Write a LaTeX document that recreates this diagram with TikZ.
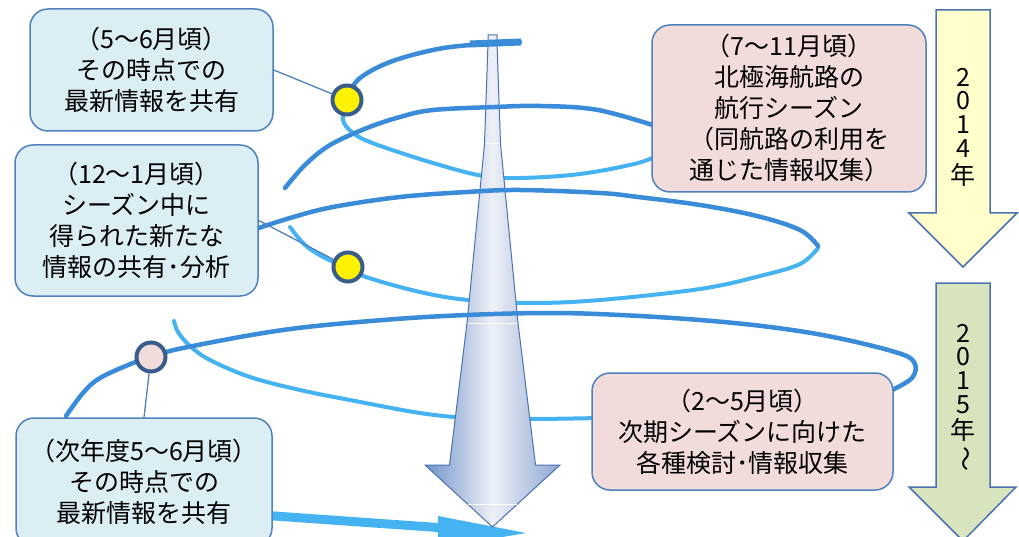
\documentclass[tikz,border=0pt]{standalone}
\usepackage{fontspec}
\setmainfont{Noto Sans CJK JP}
\definecolor{darkstroke}{HTML}{3A8CD8}
\definecolor{lightstroke}{HTML}{45B2F2}
\definecolor{boxblue}{HTML}{DAEEF3}
\definecolor{boxpink}{HTML}{F2DCDB}
\definecolor{edgeblue}{HTML}{4F81BD}
\definecolor{dotedge}{HTML}{385D8A}
\definecolor{yearyellow}{HTML}{FFFFCC}
\definecolor{yeargreen}{HTML}{D7E4BD}
\definecolor{arrowedge}{HTML}{4A72B0}
\definecolor{shadeleft}{HTML}{7093CA}
\definecolor{shaderight}{HTML}{8CA6D3}
\definecolor{shademid}{HTML}{EEF0F6}
\tikzset{
  infobox/.style={draw=edgeblue, line width=1.5pt, rounded corners=18pt, align=center, inner sep=0pt, font=\fontsize{25}{31}\selectfont},
  bluebox/.style={infobox, fill=boxblue},
  pinkbox/.style={infobox, fill=boxpink},
  dark/.style={draw=darkstroke, line width=4.5pt, line cap=round},
  light/.style={draw=lightstroke, line width=4pt, line cap=round},
  marker/.style={circle, draw=dotedge, line width=4pt, minimum size=29pt, inner sep=0pt},
  connector/.style={draw=edgeblue, line width=1.3pt},
  yeararrow/.style={draw=arrowedge, line width=1.5pt},
  yeartext/.style={inner sep=0pt, font=\fontsize{25}{25}\selectfont},
  whiteline/.style={draw=white, line width=1pt}
}
\begin{document}
\begin{tikzpicture}[x=1pt,y=-1pt]
\clip (0,0) rectangle (1019,537);
\fill[white] (0,0) rectangle (1019,537);

% light (back) strokes of the spiral
\draw[light] plot[smooth, tension=0.6] coordinates {(347,105) (343,120) (353,133) (375,144) (433,163) (483,176) (520,178) (580,174) (638,163) (662,153)};
\draw[light] plot[smooth, tension=0.6] coordinates {(290,227) (305,245) (325,258) (346,267) (366,277) (420,292) (468,300) (531,303) (600,300) (700,289) (760,276) (800,264) (818,248)};
\draw[light] plot[smooth, tension=0.6] coordinates {(600,418) (530,419) (470,418) (420,413) (350,400) (300,390) (250,377) (210,360) (190,346) (178,332) (174,321)};
% bottom stroke arrow
\draw[lightstroke, line width=9pt] (260,515) -- (445,528);
\fill[lightstroke] (438,516) -- (526,533) -- (438,548) -- cycle;

% central arrow
\draw[arrowedge, line width=1pt, left color=shadeleft, right color=shaderight, middle color=shademid]
  (488,35) -- (497,35) -- (497,43) -- (500.5,144) -- (518,323) -- (535.5,465) -- (560,465) -- (492.5,527)
  -- (425,465) -- (449.5,465) -- (467,323) -- (484.5,144) -- (488,43) -- cycle;
\draw[arrowedge, line width=0.8pt] (488,43) -- (497,43);
\draw[whiteline] (485.5,144) -- (499.5,144);
\draw[whiteline] (468,323) -- (517,323);
\draw[whiteline] (468,504) -- (517,504);

% dark (front) strokes of the spiral
\draw[darkstroke, line width=7pt] (470,44) -- (521,42);
\draw[dark] plot[smooth, tension=0.6] coordinates {(520,42) (470,45) (433,50) (390,62) (360,78) (348,95)};
\draw[dark] plot[smooth, tension=0.6] coordinates {(662,128) (598,110) (540,106) (495,107) (433,110) (400,117) (367,128) (330,145) (305,165) (285,188)};
\draw[dark] plot[smooth, tension=0.6] coordinates {(250,231) (290,218) (333,207) (400,197) (467,192) (520,190) (600,193) (638,197) (700,205) (757,216) (800,230) (818,246)};
\draw[dark] plot[smooth, tension=0.6] coordinates {(66,416) (83,393) (100,378) (133,363) (151,357) (183,348) (283,330) (383,320) (467,315) (550,313) (620,315) (700,320) (770,327) (833,337) (895,352) (914,362) (912,378) (888,392)};

% boxes
\node[bluebox, minimum width=243pt, minimum height=122pt] (b1) at (151.5,70) {（5〜6月頃）\\その時点での\\最新情報を共有};
\node[bluebox, minimum width=243pt, minimum height=151pt] (b2) at (136.5,220.5) {（12〜1月頃）\\シーズン中に\\得られた新たな\\情報の共有･分析};
\node[bluebox, minimum width=256pt, minimum height=128pt] (b3) at (144,482) {（次年度5〜6月頃）\\その時点での\\最新情報を共有};
\node[pinkbox, minimum width=274pt, minimum height=167pt] (b4) at (789,108.5) {（7〜11月頃）\\北極海航路の\\航行シーズン\\（同航路の利用を\\通じた情報収集）};
\node[pinkbox, minimum width=301pt, minimum height=117pt] (b5) at (742.5,431.5) {（2〜5月頃）\\次期シーズンに向けた\\各種検討･情報収集};

% markers and connectors
\node[marker, fill=yellow] (d1) at (347,100) {};
\node[marker, fill=yellow] (d2) at (348,267) {};
\node[marker, fill=boxpink] (d3) at (151,357) {};
\draw[connector] (b1.east) -- (d1);
\draw[connector] (b2.east) -- (d2);
\draw[connector] (b3.north) -- (d3);

% year arrows
\draw[yeararrow, fill=yearyellow] (936,10) -- (990,10) -- (990,213) -- (1017,213) -- (963,267) -- (909,213) -- (936,213) -- cycle;
\draw[yeararrow, fill=yeargreen] (936,283) -- (990,283) -- (990,487) -- (1016,487) -- (963,541) -- (909,487) -- (936,487) -- cycle;
\node[yeartext] (ya1) at (963,77) {2};
\node[yeartext] (ya2) at (963,101) {0};
\node[yeartext] (ya3) at (963,125) {1};
\node[yeartext] (ya4) at (963,149) {4};
\node[yeartext] (ya5) at (963,175) {年};
\node[yeartext] (yb1) at (963,333) {2};
\node[yeartext] (yb2) at (963,357) {0};
\node[yeartext] (yb3) at (963,381) {1};
\node[yeartext] (yb4) at (963,405) {5};
\node[yeartext] (yb5) at (963,430) {年};
\node[yeartext, rotate=-90] (ytilde) at (963,459) {〜};
\end{tikzpicture}
\end{document}
